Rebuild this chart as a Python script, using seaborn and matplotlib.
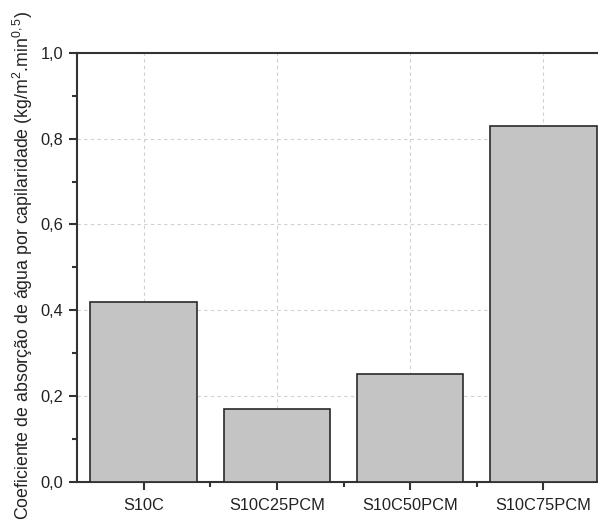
import matplotlib
matplotlib.use("Agg")
import matplotlib.pyplot as plt
import seaborn as sns
import pandas as pd
from matplotlib.ticker import MultipleLocator, FixedLocator

categories = ["S10C", "S10C25PCM", "S10C50PCM", "S10C75PCM"]
values = [0.42, 0.17, 0.25, 0.83]
ytick_values = [0.0, 0.2, 0.4, 0.6, 0.8, 1.0]
ytick_labels = ["0,0", "0,2", "0,4", "0,6", "0,8", "1,0"]
ylabel = "Coeficiente de absorção de água por capilaridade (kg/m$^2$.min$^{0,5}$)"

sns.set_theme(style="white")
plt.rcParams["font.family"] = ["Liberation Sans", "DejaVu Sans"]
plt.rcParams["mathtext.fontset"] = "custom"
plt.rcParams["mathtext.rm"] = "Liberation Sans"
plt.rcParams["mathtext.it"] = "Liberation Sans:italic"
plt.rcParams["mathtext.default"] = "regular"

df = pd.DataFrame({"amostra": categories, "coef": values})

fig = plt.figure(figsize=(5.98, 5.26), dpi=100)
ax = fig.add_axes([77 / 598, (526 - 481.5) / 526, 533 / 598, 428.5 / 526])

sns.barplot(data=df, x="amostra", y="coef", ax=ax, color="#c4c4c4",
            saturation=1, width=0.8, edgecolor="#2a2a2a", linewidth=1.2, zorder=3)

ax.set_xlim(-0.5, 3.5)
ax.set_ylim(0, 1.0)
ax.set_yticks(ytick_values)
ax.set_yticklabels(ytick_labels)
ax.yaxis.set_minor_locator(MultipleLocator(0.1))
ax.xaxis.set_minor_locator(FixedLocator([0.5, 1.5, 2.5]))

ax.grid(True, which="major", color="#d0d0d0", linestyle=(0, (3, 3)), linewidth=0.8, zorder=0)
ax.set_axisbelow(True)

for s in ax.spines.values():
    s.set_color("#333333")
    s.set_linewidth(1.5)
    s.set_visible(True)

ax.tick_params(axis="both", which="major", direction="out", length=6, width=1.5,
               color="#333333", labelsize=11.8, labelcolor="#222222", pad=4,
               bottom=True, left=True)
ax.tick_params(axis="both", which="minor", direction="out", length=3.5, width=1.5,
               color="#333333", bottom=True, left=True)
ax.tick_params(axis="x", which="major", pad=6)

ax.set_xlabel("")
ax.set_ylabel(ylabel, fontsize=12.8, color="#222222")
ax.yaxis.set_label_coords(-0.078, 0.505)

fig.savefig("out.png", dpi=100)
